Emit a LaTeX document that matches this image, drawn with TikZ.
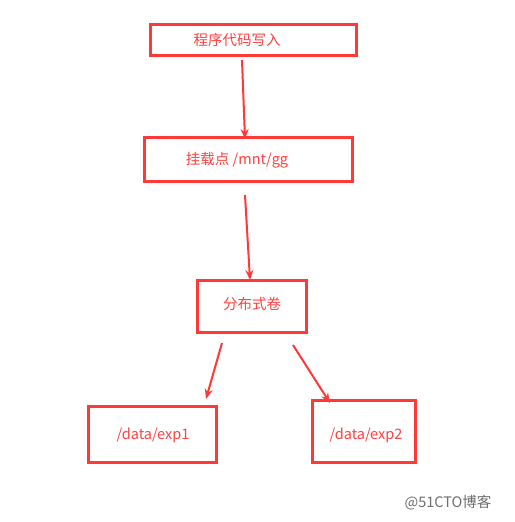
\documentclass[tikz,border=0pt]{standalone}
\usepackage{fontspec}
\setmainfont{Noto Sans CJK SC}
\usetikzlibrary{arrows.meta}
\definecolor{boxred}{RGB}{255,56,56}
\definecolor{txtred}{RGB}{255,64,64}
\definecolor{wmgray}{RGB}{110,110,110}
\begin{document}
\begin{tikzpicture}[x=1pt,y=-1pt,
  box/.style={draw=boxred,line width=3pt,inner sep=0pt,minimum width=#1},
  lbl/.style={text=txtred,font=\fontsize{14.5}{16}\selectfont,inner sep=0pt},
  conn/.style={draw=boxred,line width=2pt,-{Stealth[length=10pt,width=8pt]}}]
\useasboundingbox[fill=white] (0,0) rectangle (514,522);
% boxes
\node[box=206pt,minimum height=31pt] (b1) at (253,39.5) {};
\node[box=208pt,minimum height=44pt] (b2) at (248,159) {};
\node[box=109pt,minimum height=52pt] (b3) at (251.5,306) {};
\node[box=128pt,minimum height=56pt] (b4) at (152,434) {};
\node[box=103pt,minimum height=62pt] (b5) at (363.5,431) {};
% labels
\node[lbl] (t1) at (237,40) {程序代码写入};
\node[lbl] (t2) at (237,160) {挂载点 /mnt/gg};
\node[lbl] (t3) at (252,304) {分布式卷};
\node[lbl] (t4) at (153,435) {/data/exp1};
\node[lbl] (t5) at (366,435) {/data/exp2};
% arrow end points
\coordinate (a1s) at (242,60);
\coordinate (a1e) at (245,139);
\coordinate (a2s) at (245,195);
\coordinate (a2e) at (250,280);
\coordinate (a3s) at (222,343);
\coordinate (a3e) at (206,399);
\coordinate (a4s) at (293,345);
\coordinate (a4e) at (330,403);
\draw[conn] (a1s) -- (a1e);
\draw[conn] (a2s) -- (a2e);
\draw[conn] (a3s) -- (a3e);
\draw[conn] (a4s) -- (a4e);
% watermark
\node[text=wmgray,font=\fontsize{14.5}{16}\selectfont,inner sep=0pt] (wm) at (448,503) {@51CTO博客};
\end{tikzpicture}
\end{document}
